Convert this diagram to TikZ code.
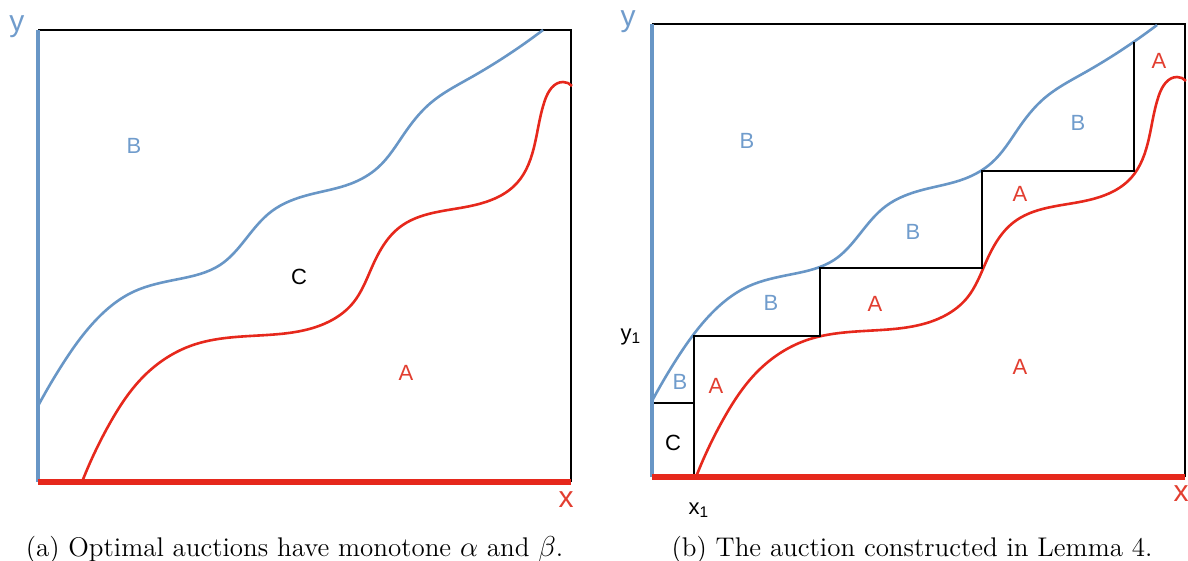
\documentclass[tikz,border=0pt]{standalone}
\usepackage{fontspec}
\usetikzlibrary{hobby}
\newfontfamily\lab{Liberation Sans}
\definecolor{cblue}{RGB}{104,150,198}
\definecolor{cred}{RGB}{230,40,28}
\definecolor{lblue}{RGB}{112,156,204}
\definecolor{lred}{RGB}{226,62,48}
\tikzset{
  frame/.style={black,line width=1.25pt},
  bluecurve/.style={cblue,line width=1.3pt},
  redcurve/.style={cred,line width=1.3pt},
  blueaxis/.style={cblue,line width=2pt},
  redaxis/.style={cred,line width=2.6pt},
  lb/.style={font=\lab\fontsize{11}{13}\selectfont,text=lblue,inner sep=0pt},
  la/.style={font=\lab\fontsize{11}{13}\selectfont,text=lred,inner sep=0pt},
  lk/.style={font=\lab\fontsize{11}{13}\selectfont,text=black,inner sep=0pt},
  axy/.style={font=\lab\fontsize{15}{17}\selectfont,text=lblue,inner sep=0pt},
  axx/.style={font=\lab\fontsize{15}{17}\selectfont,text=lred,inner sep=0pt},
  captext/.style={font=\fontsize{13.5}{16}\selectfont,inner sep=0pt,anchor=base},
  curves/.pic={
    \draw[bluecurve] (38,406) to[curve through={(62,365) (95,321) (134,291.5)
      (179,279) (220,265) (245,240) (272,211) (310,194.5) (350,184)
      (378,167.5) (404,134) (430,103.5) (470,78)}] (543,30);
    \draw[redcurve] (82,482) to[curve through={(110,423) (143,377) (193,345)
      (267,335) (325,323.5) (353,303) (372,267) (400,227) (460,208)
      (517,183) (535,143) (545,100) (563,82)}] (572,86);
  }
}
\begin{document}
\begin{tikzpicture}[x=0.5pt,y=-0.5pt]
\useasboundingbox (0,0) rectangle (1188,561);
% ---------- panel (a) ----------
\draw[frame] (38,30) -- (571,30) -- (571,482);
\pic at (0,0) {curves};
\draw[blueaxis] (38,30) -- (38,482);
\draw[redaxis] (38,482) -- (571,482);
\node[axy] (ay) at (17,27) {y};
\node[axx] (ax) at (566,500) {x};
\node[lb] (aB) at (134,146) {B};
\node[lk] (aC) at (299,277) {C};
\node[la] (aA) at (406,373) {A};
\node[captext] (capa) at (294.5,556) {(a) Optimal auctions have monotone $\alpha$ and $\beta$.};
% ---------- panel (b) ----------
\draw[frame] (652,24) -- (1185,24) -- (1185,477);
\pic at (614,-5) {curves};
\draw[frame] (652,403) -- (694,403);
\draw[frame] (694,477) -- (694,336) -- (820,336) -- (820,268) -- (982,268)
  -- (982,171) -- (1134,171) -- (1134,42);
\draw[blueaxis] (652,24) -- (652,477);
\draw[redaxis] (652,477) -- (1185,477);
\node[axy] (by) at (628,22) {y};
\node[axx] (bx) at (1181,494) {x};
\node[lb] (bB1) at (747,141) {B};
\node[lb] (bB2) at (1078,123) {B};
\node[la] (bA1) at (1159,61) {A};
\node[la] (bA2) at (1020,194) {A};
\node[lb] (bB3) at (913,232) {B};
\node[lb] (bB4) at (771,303) {B};
\node[la] (bA3) at (875,304) {A};
\node[la] (bA4) at (1020,367) {A};
\node[lb] (bB5) at (680,382) {B};
\node[la] (bA5) at (716,386) {A};
\node[lk] (bC) at (673,443) {C};
\node[lk] (by1) at (631,337) {y\textsubscript{1}};
\node[lk] (bx1) at (699,510) {x\textsubscript{1}};
\node[captext] (capb) at (912,556) {(b) The auction constructed in Lemma 4.};
\end{tikzpicture}
\end{document}
